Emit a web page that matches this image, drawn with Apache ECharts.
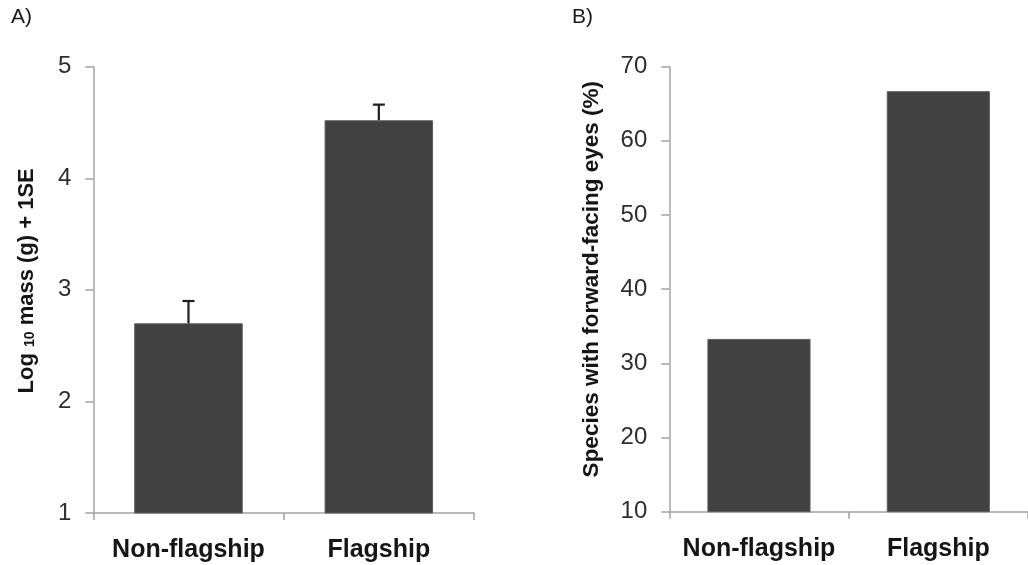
<!DOCTYPE html>
<html>
<head>
<meta charset="utf-8">
<script src="https://cdn.jsdelivr.net/npm/echarts@6/dist/echarts.min.js"></script>
<style>
html,body{margin:0;padding:0;background:#fff;}
#chart{width:1028px;height:565px;}
</style>
</head>
<body>
<div id="chart"></div>
<script>
// ---- data ----
var categories = ['Non-flagship', 'Flagship'];
var massMean = [2.70, 4.52];        // Log10 mass (g)
var massUpper = [2.90, 4.66];       // mean + 1SE
var eyesPct = [33.3, 66.7];         // % species with forward-facing eyes
var massTicks = {min: 1, max: 5, interval: 1};
var eyesTicks = {min: 10, max: 70, interval: 10};

var errData = categories.map(function (c, i) { return [i, massMean[i], massUpper[i]]; });

var axisGrey = '#a3a3a3';
var tickFont = {fontFamily: 'Liberation Sans, Arial, sans-serif', fontSize: 24, color: '#2e2e2e'};
var catFont = {fontFamily: 'Liberation Sans, Arial, sans-serif', fontSize: 25, fontWeight: 'bold', color: '#151515'};

function yAxisCommon(t, name, gap) {
  return {
    type: 'value', min: t.min, max: t.max, interval: t.interval,
    splitLine: {show: false},
    axisLine: {show: true, lineStyle: {color: axisGrey, width: 1.5}},
    axisTick: {show: true, length: 8, lineStyle: {color: axisGrey, width: 1.5}},
    axisLabel: Object.assign({margin: 22}, tickFont),
    name: name, nameLocation: 'middle', nameRotate: 90, nameGap: gap
  };
}
function xAxisCommon(gi) {
  return {
    type: 'category', gridIndex: gi, data: categories,
    axisLine: {show: true, lineStyle: {color: axisGrey, width: 1.5}},
    axisTick: {show: true, length: 7, lineStyle: {color: axisGrey, width: 1.5}},
    axisLabel: Object.assign({margin: 25, interval: 0}, catFont)
  };
}

var chart = echarts.init(document.getElementById('chart'), null, {renderer: 'canvas'});
var leftY = yAxisCommon(massTicks, '{a|Log }{s|10}{a| mass (g) + 1SE}', 55);
leftY.gridIndex = 0;
leftY.nameTextStyle = {
  padding: [0, 0, 0, 18],
  rich: {
    a: {fontFamily: 'Liberation Sans, Arial, sans-serif', fontSize: 22, fontWeight: 'bold', color: '#151515'},
    s: {fontFamily: 'Liberation Sans, Arial, sans-serif', fontSize: 14, fontWeight: 'bold', color: '#151515', padding: [6, 0, 0, 0]}
  }
};
var rightY = yAxisCommon(eyesTicks, 'Species with forward-facing eyes (%)', 66);
rightY.gridIndex = 1;
rightY.nameTextStyle = {fontFamily: 'Liberation Sans, Arial, sans-serif', fontSize: 22.5, fontWeight: 'bold', color: '#151515', padding: [0, 0, 0, 20]};

var option = {
  backgroundColor: '#ffffff',
  animation: false,
  grid: [
    {left: 93.3, top: 66.7, width: 380.7, height: 446.3},
    {left: 669.3, top: 66.7, width: 366.7, height: 445}
  ],
  xAxis: [xAxisCommon(0), xAxisCommon(1)],
  yAxis: [leftY, rightY],
  graphic: [
    {type: 'text', left: 11, top: 7, style: {text: 'A)', font: '21px "Liberation Sans", Arial, sans-serif', fill: '#1a1a1a'}},
    {type: 'text', left: 572, top: 7, style: {text: 'B)', font: '21px "Liberation Sans", Arial, sans-serif', fill: '#1a1a1a'}}
  ],
  series: [
    {
      type: 'bar', xAxisIndex: 0, yAxisIndex: 0, data: massMean,
      barCategoryGap: '43%',
      itemStyle: {color: '#414141', borderColor: '#5c5c5c', borderWidth: 1}
    },
    {
      type: 'custom', xAxisIndex: 0, yAxisIndex: 0, data: errData,
      encode: {x: 0, y: [1, 2]}, z: 3,
      renderItem: function (params, api) {
        var p0 = api.coord([api.value(0), api.value(1)]);
        var p1 = api.coord([api.value(0), api.value(2)]);
        var hw = 6;
        var st = {stroke: '#1e1e1e', lineWidth: 2.2};
        return {
          type: 'group',
          children: [
            {type: 'line', shape: {x1: p0[0], y1: p0[1], x2: p1[0], y2: p1[1]}, style: st},
            {type: 'line', shape: {x1: p1[0] - hw, y1: p1[1], x2: p1[0] + hw, y2: p1[1]}, style: st}
          ]
        };
      }
    },
    {
      type: 'bar', xAxisIndex: 1, yAxisIndex: 1, data: eyesPct,
      barCategoryGap: '42.5%',
      itemStyle: {color: '#414141', borderColor: '#5c5c5c', borderWidth: 1}
    }
  ]
};
chart.setOption(option);
</script>
</body>
</html>
